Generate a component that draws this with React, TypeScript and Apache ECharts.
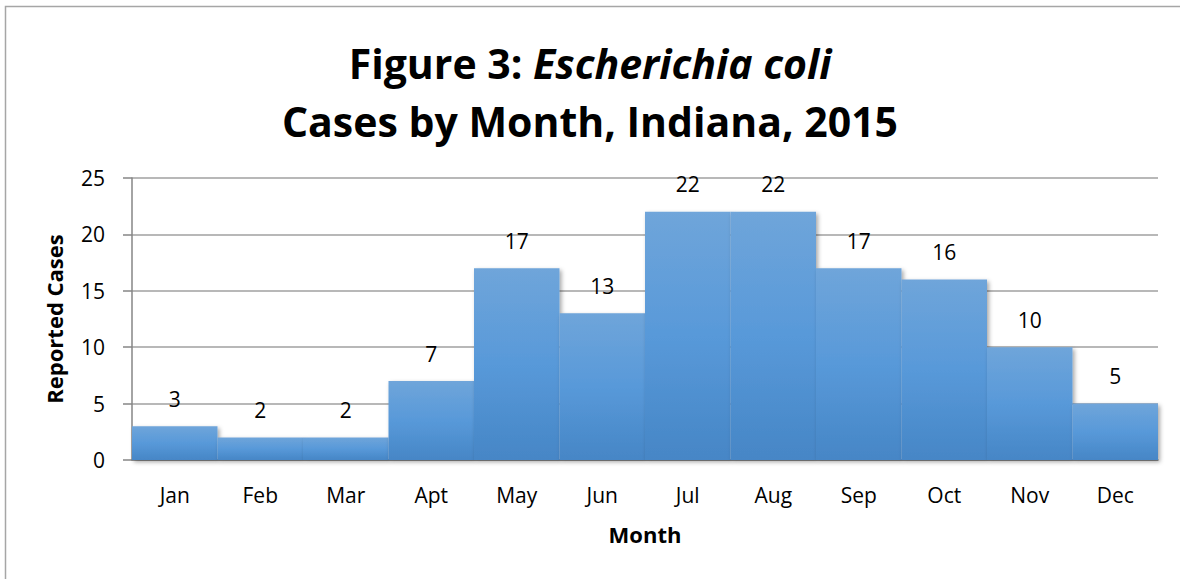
import React, { useEffect, useRef } from "react";
import * as echarts from "echarts";

const months = ["Jan", "Feb", "Mar", "Apt", "May", "Jun", "Jul", "Aug", "Sep", "Oct", "Nov", "Dec"];
const cases = [3, 2, 2, 7, 17, 13, 22, 22, 17, 16, 10, 5];
const yTicks = { min: 0, max: 25, interval: 5 };
const titleLine1 = "Figure 3: ";
const titleItalic = "Escherichia coli";
const titleLine2 = "Cases by Month, Indiana, 2015";
const xName = "Month";
const yName = "Reported Cases";

const FONT = "Open Sans";

export default function App() {
  const ref = useRef<HTMLDivElement>(null);
  useEffect(() => {
    if (!ref.current) return;
    const chart = echarts.init(ref.current, null, { renderer: "svg" });
    chart.setOption({
      animation: false,
      backgroundColor: "#ffffff",
      textStyle: { fontFamily: FONT },
      title: {
        text: `{b|${titleLine1}}{i|${titleItalic}}\n{b|${titleLine2}}`,
        left: "center",
        top: 29,
        textStyle: {
          rich: {
            b: { fontFamily: FONT, fontSize: 41, fontWeight: "bold", color: "#000", lineHeight: 58 },
            i: { fontFamily: FONT, fontSize: 41, fontWeight: "bold", fontStyle: "italic", color: "#000", lineHeight: 58 },
          },
        },
      },
      graphic: [
        {
          type: "rect",
          shape: { x: 5.5, y: 6.5, width: 1200, height: 600 },
          style: { fill: "none", stroke: "#a6a6a6", lineWidth: 1.5 },
          silent: true,
          z: 0,
        },
      ],
      grid: { left: 132, right: 22, top: 178, bottom: 119 },
      xAxis: {
        type: "category",
        data: months,
        name: xName,
        nameLocation: "middle",
        nameGap: 63,
        nameTextStyle: { fontFamily: FONT, fontSize: 22, fontWeight: "bold", color: "#000" },
        axisLine: { show: true, lineStyle: { color: "#868686", width: 1.5 } },
        axisTick: { show: false },
        axisLabel: { fontFamily: FONT, fontSize: 21, color: "#000", margin: 24 },
      },
      yAxis: {
        type: "value",
        min: yTicks.min,
        max: yTicks.max,
        interval: yTicks.interval,
        name: yName,
        nameLocation: "middle",
        nameGap: 67,
        nameTextStyle: { fontFamily: FONT, fontSize: 22, fontWeight: "bold", color: "#000" },
        axisLine: { show: true, lineStyle: { color: "#868686", width: 1.5 } },
        axisTick: { show: true, length: 9, lineStyle: { color: "#868686", width: 1.5 } },
        axisLabel: { fontFamily: FONT, fontSize: 21, color: "#000", margin: 27 },
        splitLine: { show: true, lineStyle: { color: "#a0a0a0", width: 1.5 } },
      },
      series: [
        {
          type: "bar",
          data: cases,
          barCategoryGap: "0%",
          itemStyle: {
            color: new echarts.graphic.LinearGradient(0, 0, 0, 1, [
              { offset: 0, color: "#6fa5da" },
              { offset: 0.5, color: "#5899d9" },
              { offset: 1, color: "#4686c6" },
            ]),
            shadowBlur: 4,
            shadowColor: "rgba(0,0,0,0.35)",
            shadowOffsetX: 2,
            shadowOffsetY: 2,
          },
          label: {
            show: true,
            position: "top",
            distance: 17,
            fontFamily: FONT,
            fontSize: 21,
            color: "#000",
          },
        },
      ],
    });
    return () => chart.dispose();
  }, []);
  return <div ref={ref} style={{ position: "fixed", left: 0, top: 0, width: 1180, height: 579 }} />;
}
